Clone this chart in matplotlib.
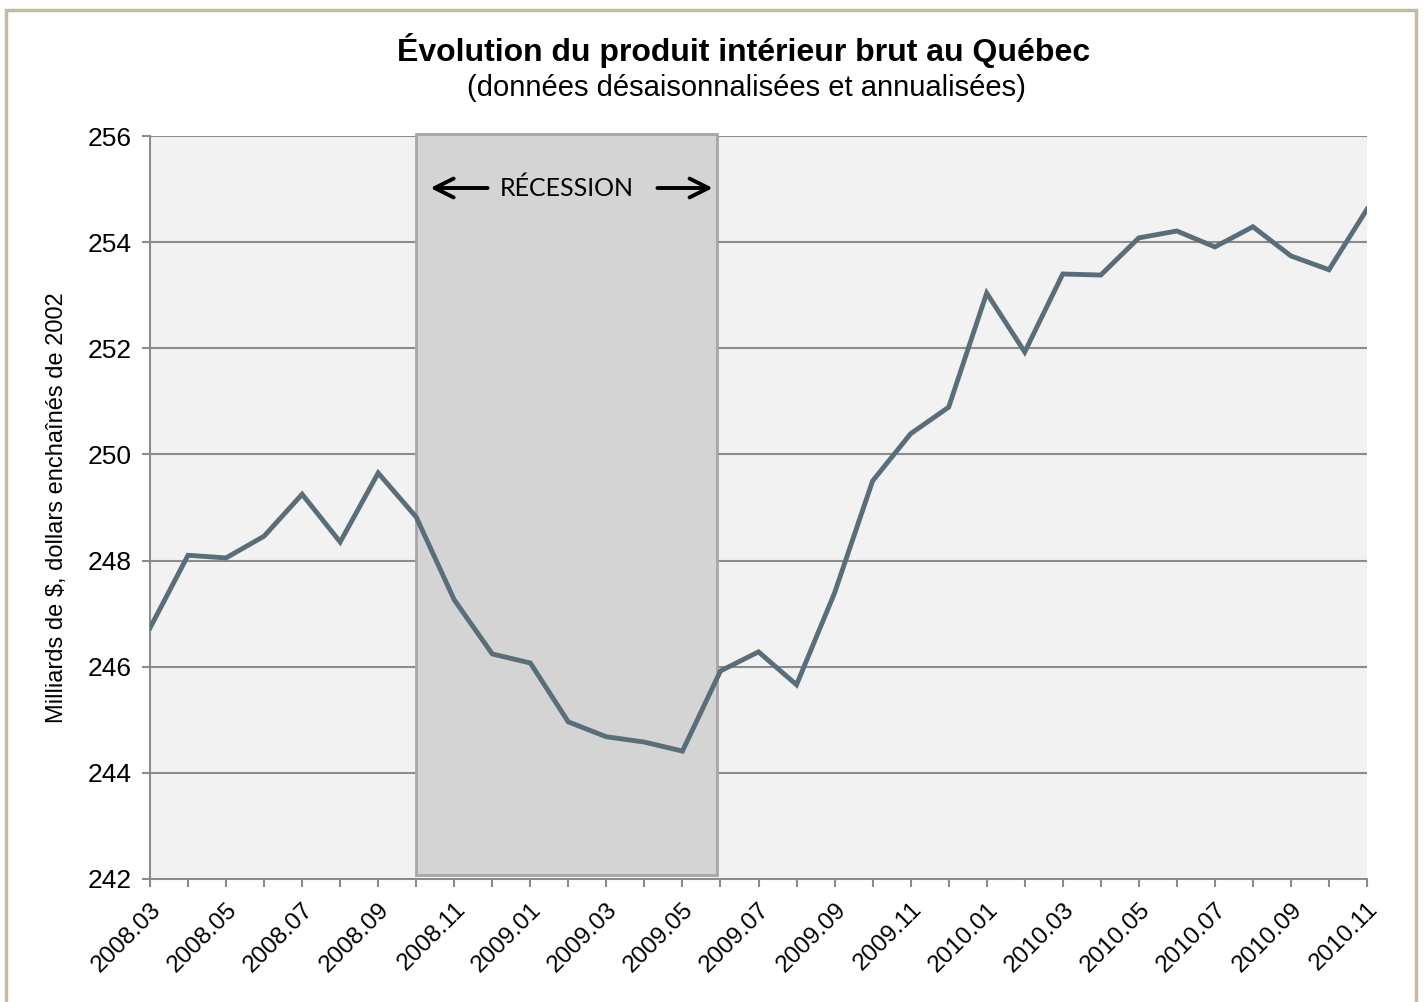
import matplotlib
matplotlib.use("Agg")
import matplotlib.pyplot as plt
from matplotlib.patches import Rectangle

months = ["2008.03","2008.04","2008.05","2008.06","2008.07","2008.08","2008.09","2008.10",
          "2008.11","2008.12","2009.01","2009.02","2009.03","2009.04","2009.05","2009.06",
          "2009.07","2009.08","2009.09","2009.10","2009.11","2009.12","2010.01","2010.02",
          "2010.03","2010.04","2010.05","2010.06","2010.07","2010.08","2010.09","2010.10","2010.11"]
gdp = [246.73, 248.10, 248.05, 248.46, 249.25, 248.35, 249.65, 248.82,
       247.26, 246.24, 246.07, 244.96, 244.68, 244.58, 244.41, 245.92,
       246.28, 245.66, 247.39, 249.50, 250.39, 250.89, 253.04, 251.93,
       253.40, 253.38, 254.08, 254.21, 253.91, 254.29, 253.74, 253.48, 254.62]
yticks = [242, 244, 246, 248, 250, 252, 254, 256]
recession_start = 7      # 2008.10
recession_end = 14.92    # just before 2009.06

plt.rcParams['font.family'] = ['Liberation Sans', 'DejaVu Sans']

fig = plt.figure(figsize=(14.24, 10.02), dpi=100)
ax = fig.add_axes([150/1424, 1-879/1002, (1367-150)/1424, (879-136)/1002])
ax.set_facecolor('#F2F2F2')

x = list(range(len(months)))
ax.set_xlim(0, len(months)-1)
ax.set_ylim(242, 256)

for yv in yticks[1:]:
    ax.axhline(yv, color='#8C8C8C', lw=1.5, zorder=1)

ax.add_patch(Rectangle((recession_start, 242.07), recession_end-recession_start, 256.03-242.07,
                       facecolor='#D4D4D4', edgecolor='#A6A6A6', lw=2, zorder=2, clip_on=False))

ax.plot(x, gdp, color='#5A6E7A', lw=3.5, zorder=3, solid_joinstyle='miter')

# Recession annotation
ymid = 256 - (188-136)/53.07
ax.annotate('', xy=(recession_start+0.3, ymid), xytext=(recession_start+1.95, ymid),
            arrowprops=dict(arrowstyle='->', lw=2.8, color='black', mutation_scale=34), zorder=4)
ax.annotate('', xy=(recession_end-0.05, ymid), xytext=(recession_end-1.65, ymid),
            arrowprops=dict(arrowstyle='->', lw=2.8, color='black', mutation_scale=34), zorder=4)
ax.text((recession_start+recession_end)/2 - 0.0, ymid, 'RÉCESSION', ha='center', va='center',
        fontsize=18, family=['Lato', 'DejaVu Sans'], zorder=4)

ax.set_yticks(yticks)
ax.set_yticklabels([str(v) for v in yticks], fontsize=19)
ax.set_xticks(x, minor=True)
ax.set_xticks(x[::2])
ax.set_xticklabels(months[::2], rotation=45, ha='right', rotation_mode='anchor', fontsize=17.5)
ax.tick_params(axis='x', which='both', length=6, color='#8C8C8C', width=1.5, pad=8)
ax.tick_params(axis='y', length=6, color='#8C8C8C', width=1.5, pad=7)

for s in ['top', 'right']:
    ax.spines[s].set_visible(False)
for s in ['left', 'bottom']:
    ax.spines[s].set_color('#8C8C8C')
    ax.spines[s].set_linewidth(1.5)

ax.set_ylabel('Milliards de $, dollars enchaînés de 2002', fontsize=17, labelpad=14)

fig.text(744/1424, 1-50/1002, 'Évolution du produit intérieur brut au Québec', ha='center', va='center',
         fontsize=23, fontweight='bold')
fig.text(746/1424, 1-88/1002, '(données désaisonnalisées et annualisées)', ha='center', va='center',
         fontsize=21)

fig.add_artist(Rectangle((6/1424, -0.01), (1416-6)/1424, 1-10/1002+0.01, transform=fig.transFigure,
                         fill=False, edgecolor='#C4BC9E', lw=2.5))

fig.savefig('out.png', dpi=100)
